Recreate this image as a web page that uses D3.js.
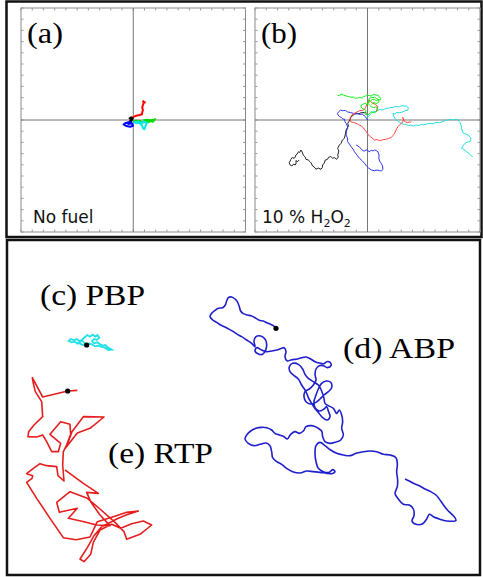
<!DOCTYPE html>
<html>
<head>
<meta charset="utf-8">
<script src="https://cdn.jsdelivr.net/npm/d3@7"></script>
<style>
  html, body { margin: 0; padding: 0; background: #fff; }
  svg { display: block; }
</style>
</head>
<body>
<svg id="chart"></svg>
<script>
// ---- data (positions in px-like units from panel centre, y up) ----
let noFuelRed   = [[-0.7,2.3],[2,4],[4,4.5],[6.3,5],[8.7,5.7],[9,8],[9.7,10],[9,12],[9.3,14],[10.3,16.7],[11.7,17.7],[9.7,18.3],[11,19]]
let noFuelBlack = [[0,0.7],[-2,2.7],[-3.7,1.7],[-1.3,0],[-3,-0.7],[-1,0.5]]
let noFuelBlue  = [[-1,-1.7],[-4.7,-2.3],[-8,-3.3],[-9.7,-4.3],[-7,-6],[-3,-6.7],[-0.3,-5.7],[-1.3,-3.3],[-5,-4],[-2,-2]]
let noFuelCyan  = [[0.3,-1.7],[3,-3.3],[5.3,-2.7],[8.7,-5],[9.5,-7.5],[11,-9.3],[12,-6.7],[13.7,-2.7],[10.3,-1.7],[7,-3],[4,-1]]
let noFuelGreen = [[0.3,-0.7],[3.7,-0.7],[5.3,-1.7],[7,-1],[9.7,-2.7],[13,-1.3],[15.3,-2.3],[17,-1],[19.7,-1.7],[21,0],[22,0.7],[18,-0.5],[14,0.3],[10,-0.5]]

let fuelBlack = [[-0.7,6.7],[-3,7.5],[-6.3,7.3],[-9,6],[-12,6.7],[-14,5],[-16.3,3.3],[-17.5,0],[-19.7,-3.3],[-19,-6],[-21.3,-10],[-22,-14],[-23,-18.3],[-25,-20],[-26.3,-23.3],[-28,-25],[-29.7,-28.3],[-28.5,-31],[-29.7,-35],[-29,-37],[-30.7,-39.3],[-33,-37.5],[-34.7,-38.3],[-36.5,-36.5],[-38.7,-37.3],[-40,-39.5],[-42,-40],[-43,-43],[-44.7,-45],[-45,-47.5],[-46.3,-49.3],[-49,-48],[-51.3,-49.3],[-53,-47],[-54.7,-46],[-56,-43],[-57.3,-41.7],[-59,-40],[-61.3,-39.3],[-62,-37],[-64,-35],[-65,-32],[-66.3,-30],[-67.5,-32.5],[-68.7,-31.7],[-70,-34],[-71.3,-35],[-72,-37],[-73,-38.3],[-75,-37.5],[-76.3,-39.3],[-77,-41],[-78,-42.7],[-77,-45],[-75.3,-46],[-73.5,-44],[-72,-45],[-71,-43],[-71.3,-40.7],[-69.5,-41.5],[-68,-40]]
let fuelBlue  = [[0,0],[-2,3.3],[-5.3,6],[-7.5,5.5],[-9.7,6.7],[-12,5.8],[-14,6.7],[-17,7.5],[-19.7,8],[-22,9.5],[-24.7,9.3],[-27,9.8],[-28.7,8.3],[-30,6.5],[-29.3,5],[-28,3.5],[-26.3,2.7],[-24.5,1],[-22.7,0.7],[-22.5,-1.5],[-21.3,-3.3],[-20,-6],[-19.7,-8.3],[-21,-11],[-21.3,-15],[-20,-18],[-19.7,-21.7],[-18,-24],[-16.3,-26.7],[-14.5,-29],[-13,-31.7],[-10.5,-35],[-8,-38.3],[-5.5,-40.5],[-3,-43.3],[-1,-46],[1.3,-48.3],[4,-50],[7,-50.7],[9.5,-50],[12,-50.7],[14,-51],[15.3,-49.3],[15,-46],[13.7,-43.3],[12,-41],[11.3,-38.3],[11.5,-35],[10.3,-31.7],[8.5,-30.5],[7,-30],[5.5,-31],[3.7,-30],[2.5,-31.5],[1.3,-31.7],[0,-30],[-1.3,-30],[-3,-31],[-4.7,-30.7],[-6.5,-28.5],[-8,-27.3],[-9.5,-26],[-11.3,-25]]
let fuelRed   = [[8.7,8.3],[10.3,13.3],[8,15.5],[5.3,16.7],[3,18.5],[1.3,20],[0.5,17.5],[-0.7,15],[-2,12.5],[-3,10.7],[-5.5,9.5],[-8,9.3],[-10.5,8],[-13,6.7],[-15.5,5],[-17,2.7],[-17.5,0.5],[-16.3,-2],[-14,-2.5],[-11.3,-3.3],[-9,-4.5],[-6.3,-6],[-4,-8],[-2,-10.7],[0,-13.5],[2,-16],[4.5,-18],[7,-20],[9.5,-19.5],[12,-20.7],[15,-19.8],[18,-19.3],[21,-18.5],[23.7,-17.3],[25.5,-15.5],[27,-13.3],[28,-11],[29.3,-8.3],[30.5,-6.5],[32,-4.7],[33.5,-3.5],[34.7,-2.7],[35.5,-1],[35.7,0.7],[35,2.7],[36,1],[36.3,-0.7],[38,-2],[39.7,-2.7],[41.5,-2],[43.7,-2]]
let fuelGreen = [[-29.7,25],[-28,24],[-26.3,26],[-24,25],[-21.3,24],[-19,23.5],[-16.3,22.7],[-14,23],[-12,21.7],[-10,22],[-8,22.7],[-6,22],[-4,23.3],[-2,24],[-0.7,25],[1.5,24.5],[3.7,24],[6,25.5],[8.7,25],[10.5,24.5],[12,23.3],[13,21.5],[12.7,20],[10.5,20.5],[8.7,19.3],[7,20.5],[5.3,20.7],[3.5,19.5],[2,18.3],[0.5,16.5],[-0.7,15],[-2,17],[-3,16.7],[-5,15.5],[-6.3,15],[-6.5,13],[-5.3,11.7],[-3,10.5],[-1.3,9.3],[-2,8],[-3,6.7],[-1.5,5.5],[0.3,5],[2,6.5],[3.7,8.3],[5.5,7.5],[7,7.3],[9,8.5],[10.3,10],[9.5,12],[8.7,13.3],[6,12.5],[3.7,13.3],[2,15],[0.3,16.7],[1,19],[2,21.7],[4.5,22.5],[7,22.7],[9,21.5],[10.3,20.7],[11.5,18],[9,16.5],[6,17.5],[4,15.5]]
let fuelCyan  = [[-1.3,1.7],[1.5,4],[3.5,6.5],[5.3,8.3],[8,8.5],[10,9.5],[12.5,10.5],[15.3,10],[18,11.5],[21,12],[25.3,12.7],[28,13.5],[31,13],[34,14.2],[38.7,14],[40.5,12.5],[40.3,10],[37,9],[34.5,8],[32,7.3],[29,7.5],[27,6],[25.3,6.7],[26,4],[27,2],[28.7,0],[31,-1.5],[33,-3],[35.3,-4],[38,-4.5],[41,-5.5],[43,-5],[45.3,-6],[48,-5],[51,-5.5],[54,-4.2],[56,-4.8],[58.7,-4],[62,-3.3],[65,-3.8],[68,-2.5],[72,-2.7],[75,-1.5],[78,-0.5],[82,0.7],[85,0],[87.5,0.8],[90.3,0],[92,-2.5],[93.7,-6.7],[94,-10],[95.3,-13.3],[98,-14],[100,-15],[102,-16.7],[103,-19],[102,-21.7],[99.5,-22],[97,-23.3],[95,-26],[93.7,-28.3],[96,-29.5],[98.7,-31.7],[101,-33.5],[102.5,-35],[104.7,-36.7]]

// bottom panel: positions read on a 3x grid of the figure
let abpTrack = [[828,280],[820,272],[812,268],[800,263],[790,258],[778,256],[768,250],[755,243],[742,240],[730,236],[722,228],[718,215],[712,200],[705,192],[695,186],[685,188],[680,198],[676,210],[668,218],[655,220],[645,226],[635,235],[630,245],[638,255],[650,262],[662,270],[675,276],[688,283],[700,290],[712,298],[725,305],[740,315],[755,325],[765,335],[762,318],[768,305],[782,303],[795,312],[800,328],[797,345],[788,358],[775,357],[765,348],[770,338],[785,345],[800,350],[815,348],[830,345],[845,340],[852,338],[858,350],[855,365],[862,378],[875,374],[892,372],[905,368],[918,366],[932,372],[945,380],[958,384],[972,386],[980,380],[990,382],[993,392],[982,398],[970,392],[958,392],[948,402],[945,418],[948,435],[940,450],[928,462],[915,470],[912,485],[918,500],[932,507],[948,502],[960,492],[972,480],[985,470],[995,458],[992,442],[978,438],[964,446],[955,462],[948,480],[942,500],[945,518],[958,528],[972,522],[980,515],[985,528],[990,545],[982,555],[968,548],[958,536],[946,522],[935,505],[925,488],[918,470],[905,450],[895,432],[880,420],[870,410],[868,395],[878,385],[895,388],[908,402],[915,418],[925,430],[940,440],[955,450],[965,468],[972,490],[975,505],[985,512],[1000,520],[1010,535],[1018,525],[1025,540],[1028,560],[1025,580],[1030,600],[1022,615],[1005,622],[990,625],[975,620],[968,605],[965,588],[952,578],[935,572],[918,575],[910,588],[898,595],[885,590],[872,598],[862,612],[852,605],[838,600],[825,595],[815,585],[800,578],[785,577],[768,580],[752,588],[740,600],[735,612],[745,625],[762,632],[780,628],[798,624],[810,632],[815,650],[818,668],[830,680],[845,688],[860,700],[878,710],[900,714],[920,708],[940,710],[960,712],[980,715],[995,716],[1005,710],[998,704],[988,712],[970,710],[955,700],[948,680],[945,655],[948,632],[960,622],[975,632],[992,645],[1010,655],[1030,660],[1050,662],[1068,655],[1090,650],[1110,648],[1130,650],[1150,658],[1170,660],[1188,668],[1192,688],[1190,710],[1193,735],[1192,755],[1185,775],[1195,792],[1210,808],[1228,810],[1240,822],[1242,842],[1236,858],[1248,868],[1268,866],[1280,852],[1288,838],[1300,845],[1318,852],[1340,858],[1368,856],[1360,842],[1345,828],[1332,812],[1320,795],[1308,780],[1292,770],[1275,762],[1258,752],[1240,745],[1228,738],[1215,732]]
let rtpTrack = [[232,466],[203,468],[128,486],[97,428],[100,445],[106,470],[125,500],[128,545],[102,570],[86,590],[84,605],[110,606],[128,600],[140,620],[155,650],[175,650],[182,625],[150,598],[182,560],[210,568],[212,598],[196,640],[232,594],[270,580],[312,546],[250,545],[216,590],[205,620],[190,650],[188,690],[192,738],[174,722],[170,695],[140,692],[120,686],[100,700],[80,716],[98,722],[96,730],[80,742],[110,790],[150,850],[190,908],[228,914],[270,906],[292,860],[340,845],[380,832],[415,828],[378,840],[350,852],[304,876],[282,902],[262,938],[240,972],[252,980],[272,958],[280,922],[300,885],[335,868],[362,880],[395,866],[430,858],[455,870],[420,898],[380,913],[372,890],[345,862],[300,822],[262,790],[210,770],[170,802],[178,832],[232,820],[205,850],[252,860],[290,870],[330,872],[300,840],[272,800],[260,772],[295,775],[250,745],[205,712],[195,705]]
let pbpTrack = [[260,330],[252,322],[245,315],[238,318],[230,312],[222,316],[212,312],[206,318],[215,322],[225,320],[232,326],[240,322],[248,312],[255,306],[262,300],[270,305],[278,299],[286,305],[292,300],[298,308],[290,315],[282,312],[276,318],[282,325],[292,322],[300,328],[308,332],[316,330],[322,336],[328,340],[335,344],[325,345],[315,338],[305,336],[295,332],[285,334],[275,328],[268,325],[262,332],[255,328],[248,330],[240,326],[232,322]]
let startDots = [[828,280],[203,468],[260,330]]

let topLabels = ['(a)', '(b)']
let bottomLabels = ['(c) PBP', '(d) ABP', '(e) RTP']

// ---- layout ----
let width = 483
let height = 577
let svg = d3.select('#chart').attr('width', width).attr('height', height)

svg.append('rect').attr('x', 6.5).attr('y', 1.5).attr('width', 475).attr('height', 235.5)
   .attr('fill', 'none').attr('stroke', '#111').attr('stroke-width', 2.5)
svg.append('rect').attr('x', 7).attr('y', 240).attr('width', 473).attr('height', 335)
   .attr('fill', 'none').attr('stroke', '#111').attr('stroke-width', 2.5)

let panels = [
  { left: 21, right: 245.5, top: 8, bottom: 232, label: topLabels[0], note: 'No fuel', width: 2,
    tracks: [[noFuelGreen, '#00dd00'], [noFuelCyan, '#00e5ee'], [noFuelBlue, '#0000ff'], [noFuelRed, '#ff0000'], [noFuelBlack, '#000']] },
  { left: 255, right: 480, top: 8, bottom: 232, label: topLabels[1], note: 'h2o2', width: 1,
    tracks: [[fuelBlack, '#222'], [fuelBlue, '#3333ee'], [fuelCyan, '#22dddd'], [fuelRed, '#ff4444'], [fuelGreen, '#11ee11']] }
]

panels.forEach(p => {
  let x = d3.scaleLinear().domain([-112, 112]).range([p.left, p.right])
  let y = d3.scaleLinear().domain([-112, 112]).range([p.bottom, p.top])
  let g = svg.append('g')
  let ticks = d3.range(-10, 11).map(i => i * 11.2)

  g.append('rect').attr('x', p.left).attr('y', p.top)
   .attr('width', p.right - p.left).attr('height', p.bottom - p.top)
   .attr('fill', 'none').attr('stroke', '#8a8a8a').attr('stroke-width', 1)

  let tl = 2.5
  ticks.forEach(t => {
    g.append('line').attr('x1', x(t)).attr('x2', x(t)).attr('y1', p.bottom).attr('y2', p.bottom - tl).attr('stroke', '#999')
    g.append('line').attr('x1', x(t)).attr('x2', x(t)).attr('y1', p.top).attr('y2', p.top + tl).attr('stroke', '#999')
    g.append('line').attr('y1', y(t)).attr('y2', y(t)).attr('x1', p.left).attr('x2', p.left + tl).attr('stroke', '#999')
    g.append('line').attr('y1', y(t)).attr('y2', y(t)).attr('x1', p.right).attr('x2', p.right - tl).attr('stroke', '#999')
  })

  g.append('line').attr('x1', x(0)).attr('x2', x(0)).attr('y1', p.top).attr('y2', p.bottom).attr('stroke', '#777')
  g.append('line').attr('x1', p.left).attr('x2', p.right).attr('y1', y(0)).attr('y2', y(0)).attr('stroke', '#777')

  let line = d3.line().x(d => x(d[0])).y(d => y(d[1]))
  p.tracks.forEach(t => {
    g.append('path').attr('d', line(t[0])).attr('fill', 'none')
     .attr('stroke', t[1]).attr('stroke-width', p.width).attr('stroke-linejoin', 'round')
  })

  g.append('text').attr('x', p.left + 6).attr('y', 43)
   .attr('font-family', 'Liberation Serif, serif').attr('font-size', 30)
   .attr('textLength', 36).attr('lengthAdjust', 'spacingAndGlyphs')
   .text(p.label)

  let note = g.append('text').attr('x', p.left + 12).attr('y', 223)
   .attr('font-family', 'DejaVu Sans, sans-serif').attr('font-size', 17).attr('fill', '#111')
  if (p.note === 'h2o2') {
    note.attr('x', p.left + 7)
    note.append('tspan').text('10 % H')
    note.append('tspan').attr('font-size', 11).attr('dy', 4).text('2')
    note.append('tspan').attr('dy', -4).text('O')
    note.append('tspan').attr('font-size', 11).attr('dy', 4).text('2')
  } else {
    note.text(p.note)
  }
})

// bottom panel, coordinates on a 3x grid
let bx = d3.scaleLinear().domain([0, 1449]).range([0, 483])
let by = d3.scaleLinear().domain([0, 1026]).range([235, 577])
let bline = d3.line().x(d => bx(d[0])).y(d => by(d[1]))

svg.append('path').attr('d', bline.curve(d3.curveCatmullRom)(abpTrack))
   .attr('fill', 'none').attr('stroke', '#1f1fcc').attr('stroke-width', 1.6)
svg.append('path').attr('d', bline.curve(d3.curveLinear)(rtpTrack))
   .attr('fill', 'none').attr('stroke', '#e41e1e').attr('stroke-width', 1.6).attr('stroke-linejoin', 'round')
svg.append('path').attr('d', bline.curve(d3.curveLinear)(pbpTrack))
   .attr('fill', 'none').attr('stroke', '#22e0e8').attr('stroke-width', 1.8)

svg.selectAll('circle.start').data(startDots).enter().append('circle')
   .attr('class', 'start').attr('cx', d => bx(d[0])).attr('cy', d => by(d[1])).attr('r', 2.6).attr('fill', '#000')

let labelPos = [[40, 305, 105], [343, 358, 112], [108, 463, 105]]
bottomLabels.forEach((t, i) => {
  svg.append('text').attr('x', labelPos[i][0]).attr('y', labelPos[i][1])
     .attr('font-family', 'Liberation Serif, serif').attr('font-size', 29)
     .attr('textLength', labelPos[i][2]).attr('lengthAdjust', 'spacingAndGlyphs')
     .text(t)
})
</script>
</body>
</html>
